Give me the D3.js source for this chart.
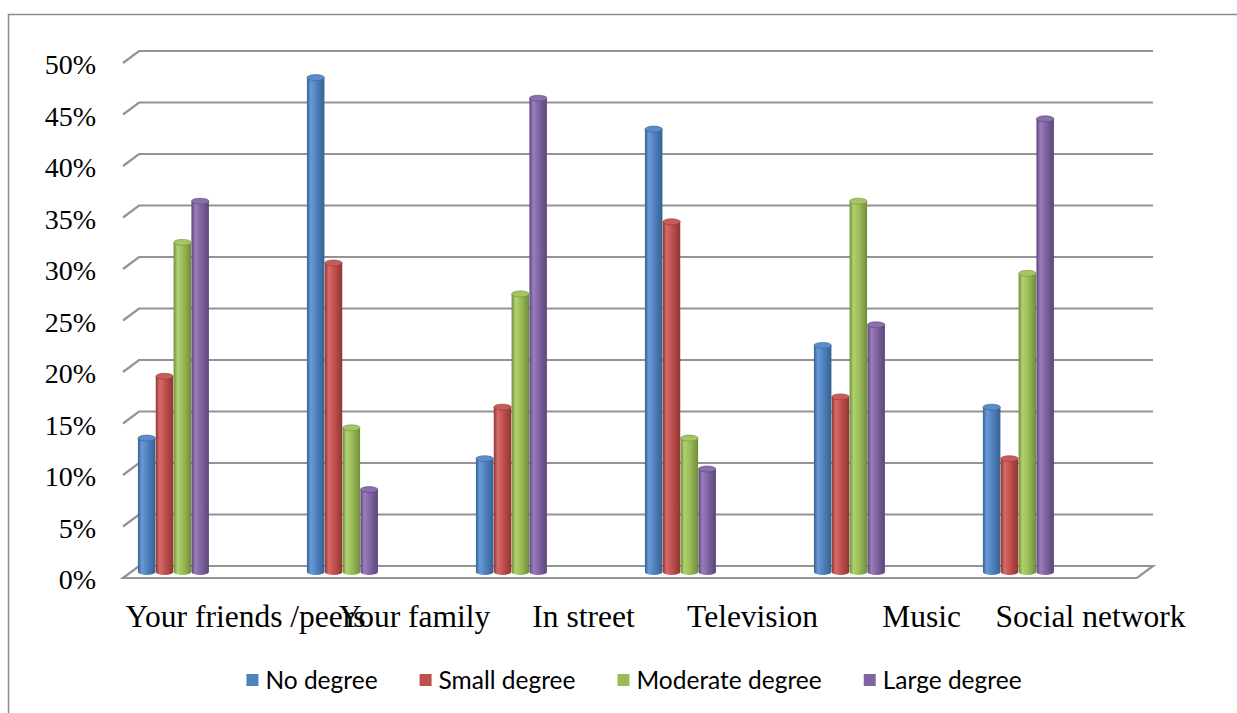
<!DOCTYPE html>
<html>
<head>
<meta charset="utf-8">
<script src="https://cdn.jsdelivr.net/npm/d3@7"></script>
<style>
  html, body { margin: 0; padding: 0; background: #fff; }
  svg { display: block; }
</style>
</head>
<body>
<svg id="chart" width="1237" height="713"></svg>
<script>
// Sources of influence, share of respondents per degree
const categories = ["Your friends /peers", "Your family", "In street", "Television", "Music", "Social network"];
const seriesNames = ["No degree", "Small degree", "Moderate degree", "Large degree"];
const noDegree       = [13, 48, 11, 43, 22, 16];
const smallDegree    = [19, 30, 16, 34, 17, 11];
const moderateDegree = [32, 14, 27, 13, 36, 29];
const largeDegree    = [36,  8, 46, 10, 24, 44];
const yTicks = [0, 5, 10, 15, 20, 25, 30, 35, 40, 45, 50];

const seriesValues = [noDegree, smallDegree, moderateDegree, largeDegree];
const palette = [
  { base: "#4F81BD", light: "#6A9BD8", dark: "#36618F", top: "#5A8CCB" },
  { base: "#C0504D", light: "#D56B68", dark: "#8F3533", top: "#C95B58" },
  { base: "#9BBB59", light: "#B1D06F", dark: "#718C3A", top: "#A6C664" },
  { base: "#8064A2", light: "#9A7EBC", dark: "#5B4577", top: "#8A6EAD" }
];

const svg = d3.select("#chart");

// 3D wall geometry
const wallLeft = 139, wallRight = 1153;
const depthX = -16, depthY = 12;      // back wall -> front edge
const midX = depthX / 2, midY = depthY / 2;

const y = d3.scaleLinear().domain([0, 50]).range([566, 51]);
const x = d3.scaleBand().domain(categories).range([wallLeft, wallRight]);
const bw = x.bandwidth();
const inner = d3.scaleBand().domain(d3.range(seriesNames.length))
  .range([bw * 0.041, bw * 0.041 + bw * 0.42]).paddingInner(0.02);

// outer frame
svg.append("rect")
  .attr("x", 8.5).attr("y", 14.5).attr("width", 1300).attr("height", 800)
  .attr("fill", "none").attr("stroke", "#8a8a8a").attr("stroke-width", 1.5);

// gradients for the cylinders
const defs = svg.append("defs");
palette.forEach((p, i) => {
  const g = defs.append("linearGradient").attr("id", "cyl" + i)
    .attr("x1", "0%").attr("x2", "100%").attr("y1", "0%").attr("y2", "0%");
  g.append("stop").attr("offset", "0%").attr("stop-color", p.dark);
  g.append("stop").attr("offset", "22%").attr("stop-color", p.light);
  g.append("stop").attr("offset", "55%").attr("stop-color", p.base);
  g.append("stop").attr("offset", "100%").attr("stop-color", p.dark);
});

// gridlines on the back wall with slanted side wall
const grid = svg.append("g").attr("fill", "none")
  .attr("stroke", "#939393").attr("stroke-width", 2.2);
yTicks.filter(v => v > 0).forEach(v => {
  const yy = y(v);
  grid.append("path")
    .attr("d", `M${wallLeft + depthX},${yy + depthY}L${wallLeft},${yy}L${wallRight},${yy}`);
});
// floor
grid.append("path")
  .attr("d", `M${wallLeft},${y(0)}L${wallRight},${y(0)}L${wallRight + depthX},${y(0) + depthY}L${wallLeft + depthX},${y(0) + depthY}Z`)
  .attr("fill", "#fff");

// cylinders
const ry = 3;
const bars = svg.append("g");
categories.forEach((c, ci) => {
  seriesValues.forEach((vals, si) => {
    const v = vals[ci];
    const x0 = x(c) + inner(si) + midX;
    const w = inner.bandwidth();
    const yt = y(v) + midY;
    const yb = y(0) + midY;
    const p = palette[si];
    bars.append("path")
      .attr("d", `M${x0},${yt}L${x0},${yb}A${w / 2},${ry} 0 0 0 ${x0 + w},${yb}L${x0 + w},${yt}Z`)
      .attr("fill", `url(#cyl${si})`);
    bars.append("ellipse")
      .attr("cx", x0 + w / 2).attr("cy", yt)
      .attr("rx", w / 2).attr("ry", ry)
      .attr("fill", p.top).attr("stroke", p.dark).attr("stroke-width", 0.6);
  });
});

// value axis labels
const yAxis = d3.axisLeft(y).tickValues(yTicks).tickFormat(d => d + "%")
  .tickSize(0).tickPadding(27);
const yg = svg.append("g")
  .attr("transform", `translate(${wallLeft + depthX},${depthY + 2})`)
  .call(yAxis);
yg.select(".domain").remove();
yg.selectAll("text")
  .attr("font-family", "'Liberation Serif', 'Times New Roman', serif")
  .attr("font-size", 28).attr("fill", "#000");

// category labels
const xAxis = d3.axisBottom(x).tickSize(0).tickPadding(27);
const xg = svg.append("g")
  .attr("transform", `translate(22,${y(0) + depthY})`)
  .call(xAxis);
xg.select(".domain").remove();
xg.selectAll("text")
  .attr("font-family", "'Liberation Serif', 'Times New Roman', serif")
  .attr("font-size", 31.5).attr("fill", "#000");

// legend
const legendGap = 42;
const legend = svg.append("g").attr("transform", "translate(0,680)");
const items = legend.selectAll("g.item").data(seriesNames).join("g").attr("class", "item");
items.append("rect").attr("x", 0).attr("y", -6).attr("width", 12).attr("height", 12)
  .attr("fill", (d, i) => palette[i].base);
items.append("text").attr("x", 19).attr("y", 0).attr("dy", "0.35em")
  .attr("font-family", "Lato, 'Open Sans', sans-serif").attr("font-size", 24.5)
  .attr("fill", "#000").text(d => d);
let cursor = 0;
const offsets = [];
items.each(function () {
  offsets.push(cursor);
  cursor += this.getBBox().width + legendGap;
});
const total = cursor - legendGap;
const start = 634 - total / 2;
items.attr("transform", (d, i) => `translate(${start + offsets[i]},0)`);
</script>
</body>
</html>
